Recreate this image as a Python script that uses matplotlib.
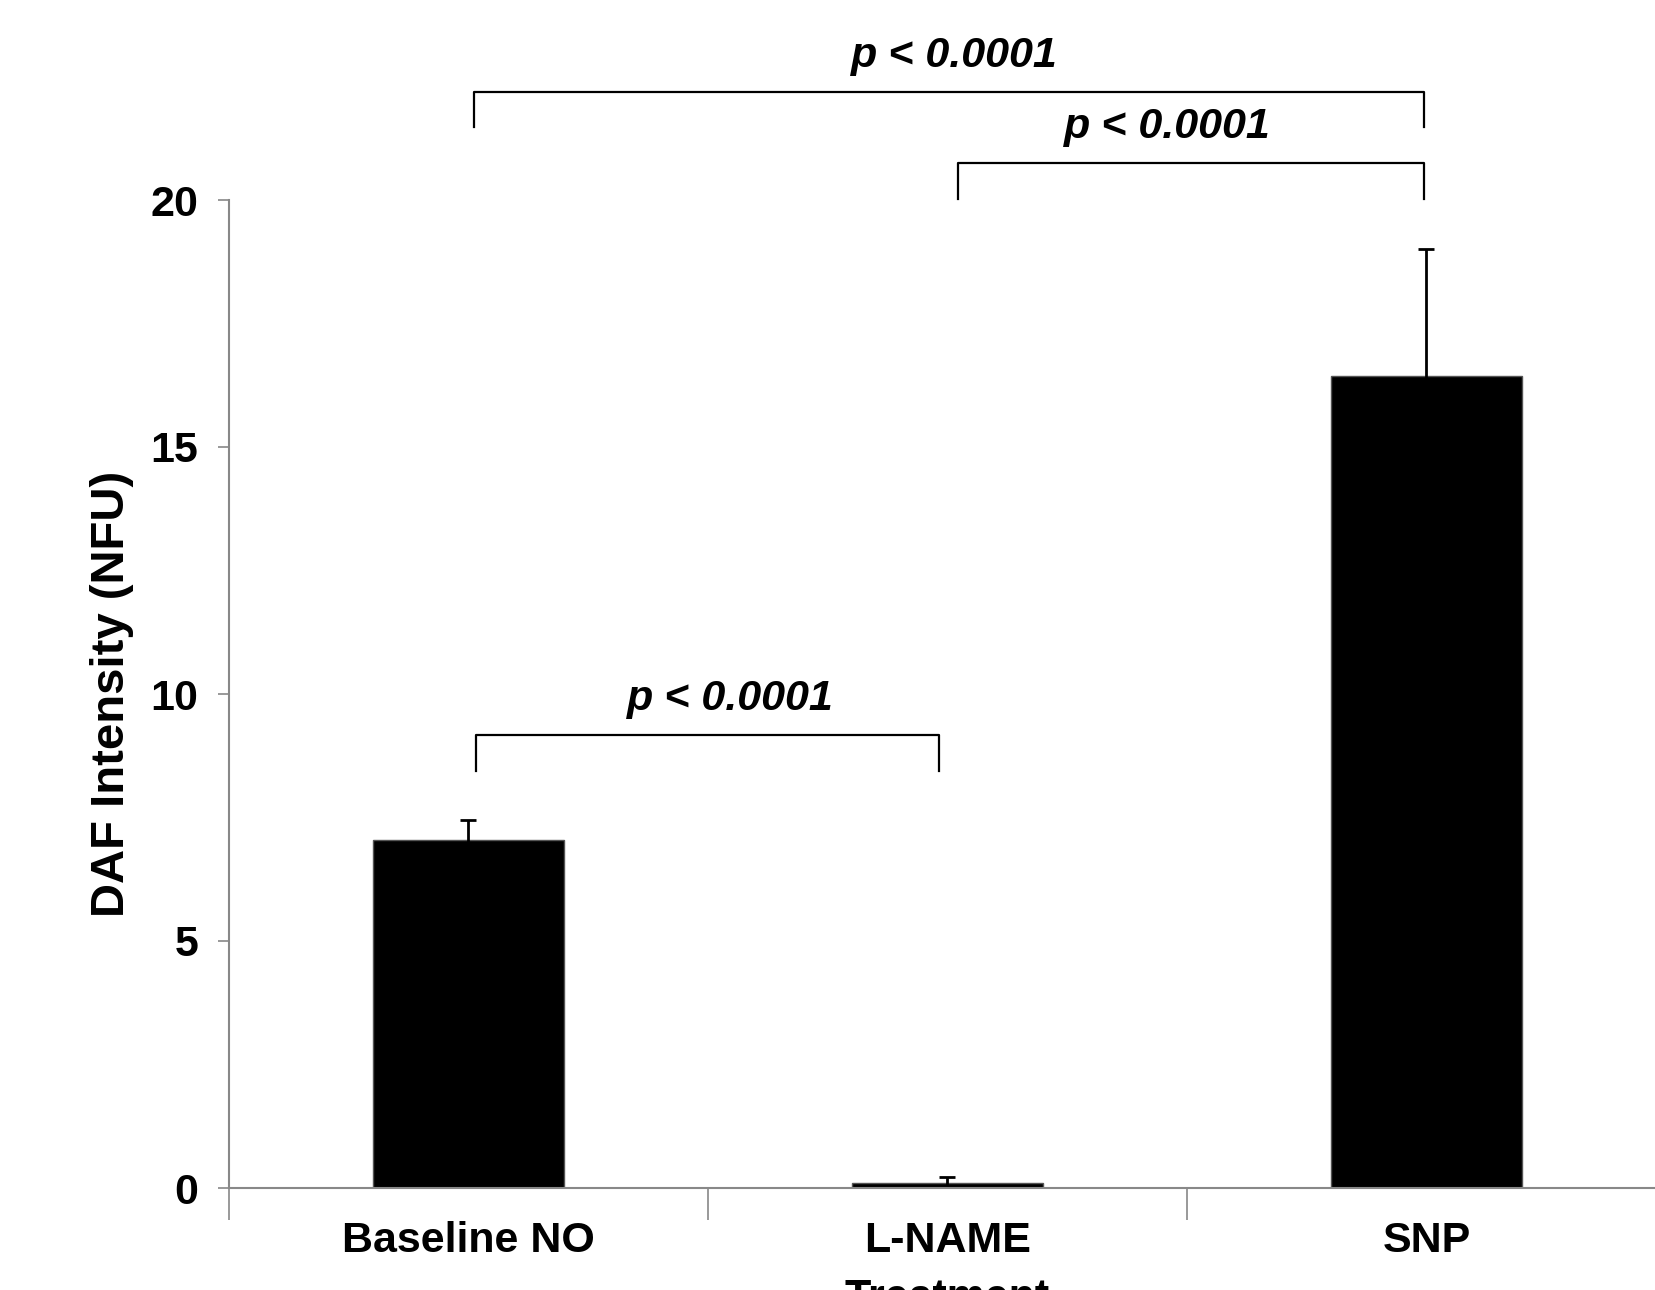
import matplotlib.pyplot as plt

# values
treatments = ["Baseline NO", "L-NAME", "SNP"]
means = [7.05, 0.11, 16.43]
errors = [0.39, 0.12, 2.57]

# significance brackets: (left, right, bar height, leg bottom, label x, label)
brackets = [
    (0.512, 2.494, 22.18, 21.47, 1.515, "p < 0.0001"),
    (1.521, 2.494, 20.75, 20.02, 1.958, "p < 0.0001"),
    (0.516, 1.482, 9.17, 8.44, 1.047, "p < 0.0001"),
]

plt.rcParams['font.family'] = ['Liberation Sans Narrow', 'Liberation Sans', 'DejaVu Sans']
plt.rcParams['font.weight'] = 'bold'

fig = plt.figure(figsize=(16.56, 12.9), dpi=100)
ax = fig.add_axes([229 / 1656, 102 / 1290, 1437 / 1656, 988 / 1290])

pos = [i + 0.5 for i in range(len(treatments))]
ax.bar(pos, means, width=0.4, color="black", edgecolor="#555555", linewidth=1,
       yerr=errors, error_kw=dict(ecolor="black", elinewidth=2, capsize=6, capthick=2),
       zorder=2)

ax.set_xlim(0, 3)
ax.set_ylim(0, 20)
ax.set_yticks([0, 5, 10, 15, 20])
ax.tick_params(axis="y", length=8, width=1.2, color="#888888", pad=14, labelsize=31)

ax.set_xticks([0, 1, 2, 3])
ax.set_xticklabels([])
ax.set_xticks(pos, minor=True)
ax.set_xticklabels(treatments, minor=True)
ax.tick_params(axis="x", which="major", length=23, width=1.2, color="#888888")
ax.tick_params(axis="x", which="minor", length=0, pad=24, labelsize=31)

for side in ["top", "right"]:
    ax.spines[side].set_visible(False)
for side in ["left", "bottom"]:
    ax.spines[side].set_color("#888888")
    ax.spines[side].set_linewidth(1.5)

ax.set_ylabel("DAF Intensity (NFU)", fontsize=34, fontweight="bold", labelpad=12)

for x0, x1, top, leg, tx, label in brackets:
    ax.plot([x0, x0, x1, x1], [leg, top, top, leg], color="black", lw=1.6,
            clip_on=False, zorder=3)
    ax.text(tx, top + 0.33, label, ha="center", va="bottom",
            fontsize=31, fontweight="bold", style="italic", clip_on=False)

fig.text(947 / 1656, 12 / 1290, "Treatment", ha="center", va="top",
         fontsize=31, fontweight="bold")

fig.savefig("out.png", dpi=100)
